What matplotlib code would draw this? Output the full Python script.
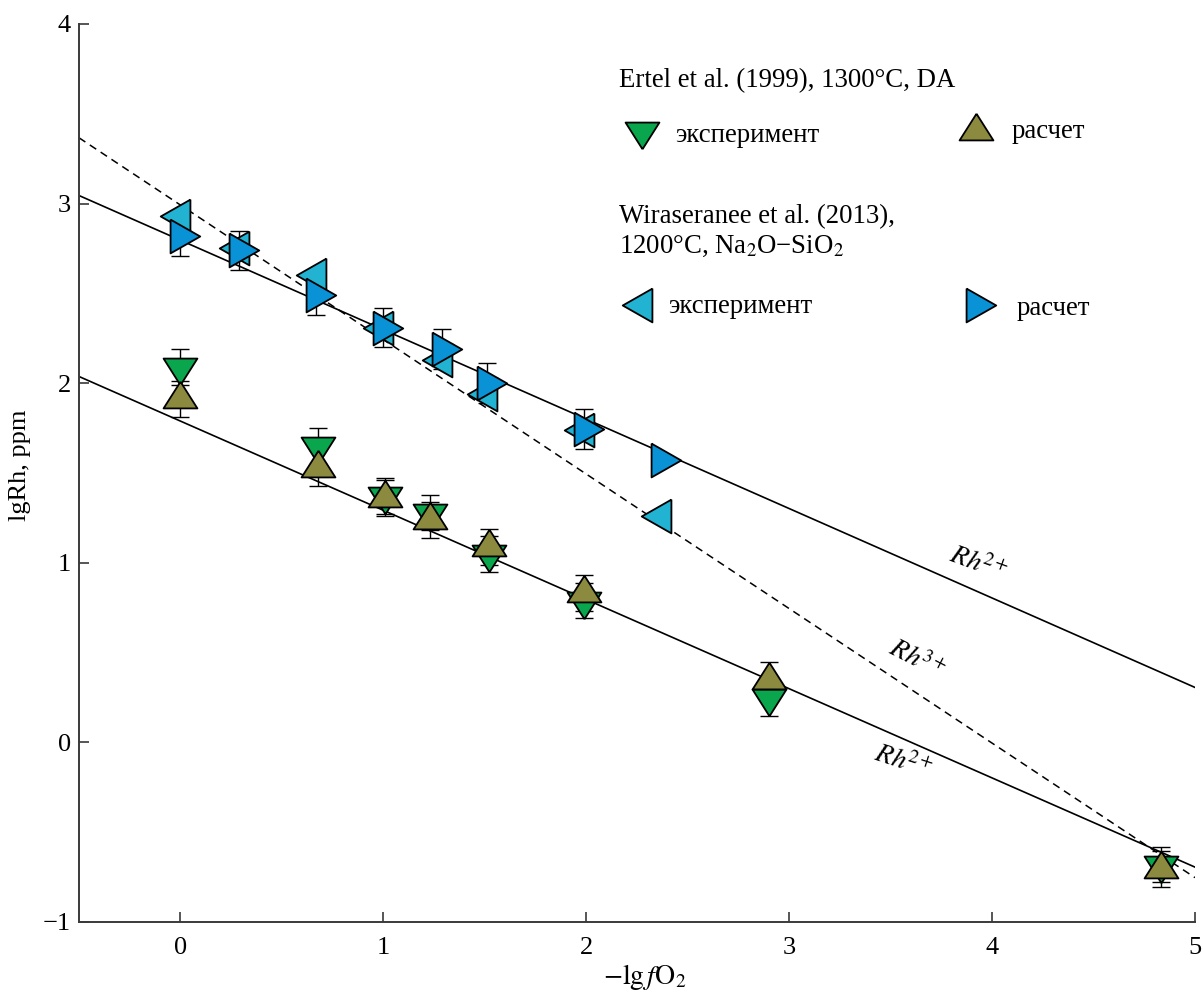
import numpy as np
import matplotlib
matplotlib.use("Agg")
import matplotlib.pyplot as plt

plt.rcParams['font.family'] = ['Liberation Serif', 'DejaVu Serif']
plt.rcParams['mathtext.fontset'] = 'stix'

# ---- data ----
ertel_x = [0.0, 0.68, 1.01, 1.23, 1.52, 1.99, 2.90, 4.83]
ertel_exp = [2.09, 1.65, 1.37, 1.28, 1.05, 0.79, 0.245, -0.68]
ertel_calc = [1.91, 1.53, 1.36, 1.24, 1.09, 0.83, 0.345, -0.705]
ertel_err = [0.10, 0.10, 0.10, 0.10, 0.10, 0.10, 0.10, 0.10]

wir_x = [0.0, 0.29, 0.67, 1.00, 1.29, 1.51, 1.99, 2.37]
wir_exp = [2.93, 2.75, 2.60, 2.31, 2.13, 1.94, 1.74, 1.26]
wir_calc = [2.82, 2.74, 2.49, 2.31, 2.19, 2.00, 1.745, 1.57]
wir_err = [0.11, 0.11, 0.11, 0.11, 0.11, 0.11, 0.11, None]

# fitted lines: (intercept at x=0, slope)
line_wir_rh2 = (2.796, -0.498)
line_rh3 = (2.992, -0.749)
line_ertel_rh2 = (1.789, -0.4967)

x_ticks = [0, 1, 2, 3, 4, 5]
y_ticks = [-1, 0, 1, 2, 3, 4]
x_lim = (-0.5, 5.0)
y_lim = (-1.0, 4.0)

# ---- colours ----
c_green = '#0aa64d'
c_olive = '#8b8a3f'
c_cyan = '#21b3d1'
c_blue = '#0a92d6'

W, H = 1202, 993
fig = plt.figure(figsize=(W / 100, H / 100), dpi=100)
L, R, T, B = 79, 1195, 24, 922
ax = fig.add_axes([L / W, 1 - B / H, (R - L) / W, (B - T) / H])
ax.set_xlim(*x_lim)
ax.set_ylim(*y_lim)

# custom triangle markers centred on centroid
m_up = [(0, 17.3), (-16.5, -8.7), (16.5, -8.7), (0, 17.3)]
m_down = [(0, -17.3), (-16.5, 8.7), (16.5, 8.7), (0, -17.3)]
m_right = [(-9.7, 16.5), (-9.7, -16.5), (19.3, 0), (-9.7, 16.5)]
m_left = [(9.7, 16.5), (9.7, -16.5), (-19.3, 0), (9.7, 16.5)]
ms_ud = 35.5 * 72 / 100
ms_lr = 39.5 * 72 / 100
mew = 1.3

# lines
xx = np.array(x_lim)
ax.plot(xx, line_wir_rh2[0] + line_wir_rh2[1] * xx, color='black', lw=1.2, zorder=2)
ax.plot(xx, line_ertel_rh2[0] + line_ertel_rh2[1] * xx, color='black', lw=1.2, zorder=2)
ax.plot(xx, line_rh3[0] + line_rh3[1] * xx, color='black', lw=1.1,
        dashes=(5, 3.5), zorder=2)

# error bars
cap = 6.5
ax.errorbar(ertel_x, ertel_exp, yerr=ertel_err, fmt='none', ecolor='black',
            elinewidth=1.0, capsize=cap, capthick=1.0, zorder=3)
ax.errorbar(ertel_x, ertel_calc, yerr=ertel_err, fmt='none', ecolor='black',
            elinewidth=1.0, capsize=cap, capthick=1.0, zorder=3)
wx = [x for x, e in zip(wir_x, wir_err) if e is not None]
wy = [y for y, e in zip(wir_calc, wir_err) if e is not None]
we = [e for e in wir_err if e is not None]
ax.errorbar(wx, wy, yerr=we, fmt='none', ecolor='black',
            elinewidth=1.0, capsize=cap, capthick=1.0, zorder=3)

# markers
ax.plot(wir_x, wir_exp, ls='none', marker=m_left, ms=ms_lr, mfc=c_cyan,
        mec='black', mew=mew, zorder=4)
ax.plot(wir_x, wir_calc, ls='none', marker=m_right, ms=ms_lr, mfc=c_blue,
        mec='black', mew=mew, zorder=5)
ax.plot(ertel_x, ertel_exp, ls='none', marker=m_down, ms=ms_ud, mfc=c_green,
        mec='black', mew=mew, zorder=4)
ax.plot(ertel_x, ertel_calc, ls='none', marker=m_up, ms=ms_ud, mfc=c_olive,
        mec='black', mew=mew, zorder=5)

# line labels
lab2 = r'$Rh^{\!\mathit{2+}}$'
lab3 = r'$Rh^{\!\mathit{3+}}$'
ax.text(3.93, 0.99, lab2, fontsize=20, rotation=-20, ha='center', va='center')
ax.text(3.63, 0.46, lab3, fontsize=20, rotation=-27, ha='center', va='center')
ax.text(3.56, -0.11, lab2, fontsize=20, rotation=-18, ha='center', va='center')

# axes styling
for s in ['top', 'right']:
    ax.spines[s].set_visible(False)
for s in ['left', 'bottom']:
    ax.spines[s].set_color('#3a3a3a')
    ax.spines[s].set_linewidth(1.4)
ax.set_xticks(x_ticks)
ax.set_yticks(y_ticks)
ax.set_xticklabels([str(v) for v in x_ticks])
ax.set_yticklabels([str(v).replace('-', '\u2212') for v in y_ticks])
ax.tick_params(axis='both', direction='in', length=7, width=1.2, color='#3a3a3a',
               labelsize=19)
ax.tick_params(axis='x', pad=11)
ax.tick_params(axis='y', pad=6)

fig.text(20 / W, 1 - 465 / H, 'lgRh, ppm', rotation=90, fontsize=19,
         ha='center', va='center')
fig.text(645 / W, 1 - 977 / H, r'$-\mathrm{lg}\,f\mathrm{O}_2$', fontsize=20,
         ha='center', va='center')

# legend (manual)
def fx(px):
    return px / W

def fy(py):
    return 1 - py / H

def axp(px, py):
    return [(px - L) / (R - L)], [(B - py) / (B - T)]

fs = 19.3
fig.text(fx(619), fy(87), 'Ertel et al. (1999), 1300°C, DA', fontsize=fs, va='baseline')
ax.plot(*axp(642, 131), transform=ax.transAxes, ls='none', marker=m_down, ms=ms_ud,
        mfc=c_green, mec='black', mew=mew, clip_on=False)
fig.text(fx(675), fy(142), 'эксперимент', fontsize=fs, va='baseline')
ax.plot(*axp(976, 131), transform=ax.transAxes, ls='none', marker=m_up, ms=ms_ud,
        mfc=c_olive, mec='black', mew=mew, clip_on=False)
fig.text(fx(1012), fy(138), 'расчет', fontsize=fs, va='baseline')

fig.text(fx(619), fy(223), 'Wiraseranee et al. (2013),', fontsize=fs, va='baseline')
fig.text(fx(619), fy(253), '1200°C, Na$_2$O\u2212SiO$_2$', fontsize=fs, va='baseline')
ax.plot(*axp(642, 305), transform=ax.transAxes, ls='none', marker=m_left, ms=ms_lr,
        mfc=c_cyan, mec='black', mew=mew, clip_on=False)
fig.text(fx(668), fy(313), 'эксперимент', fontsize=fs, va='baseline')
ax.plot(*axp(976, 305), transform=ax.transAxes, ls='none', marker=m_right, ms=ms_lr,
        mfc=c_blue, mec='black', mew=mew, clip_on=False)
fig.text(fx(1017), fy(315), 'расчет', fontsize=fs, va='baseline')

fig.savefig('out.png', dpi=100)
